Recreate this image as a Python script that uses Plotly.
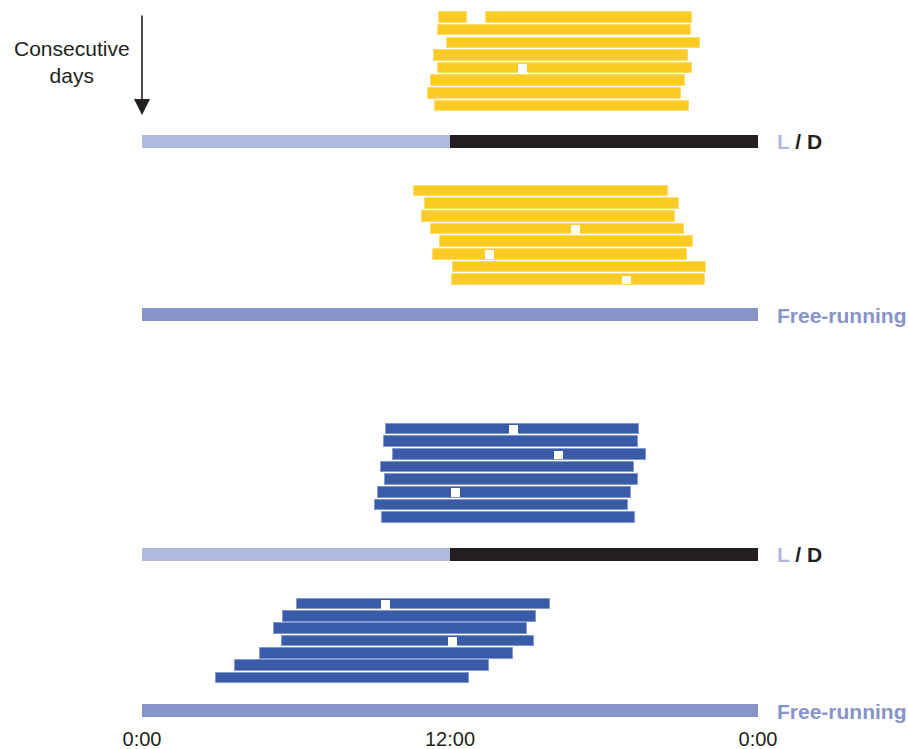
import plotly.graph_objects as go

# ---- activity records (clock hours, 0-24) ----
# Yellow animal, light/dark cycle
yellow_ld_on = [11.58, 11.52, 11.88, 11.39, 11.54, 11.27, 11.14, 11.43]
yellow_ld_off = [21.44, 21.39, 21.74, 21.26, 21.42, 21.14, 21.01, 21.30]
yellow_ld_gaps = [(0, 12.66, 13.40)]
yellow_ld_marks = [(4, 14.65, 15.00)]

# Yellow animal, free-running
yellow_fr_on = [10.61, 11.04, 10.91, 11.27, 11.62, 11.35, 12.13, 12.07]
yellow_fr_off = [20.48, 20.91, 20.78, 21.13, 21.48, 21.22, 21.99, 21.93]
yellow_fr_gaps = []
yellow_fr_marks = [(3, 16.71, 17.07), (5, 13.36, 13.71), (7, 18.70, 19.05)]

# Blue animal, light/dark cycle
blue_ld_on = [9.51, 9.44, 9.79, 9.32, 9.47, 9.19, 9.07, 9.35]
blue_ld_off = [19.36, 19.31, 19.65, 19.18, 19.34, 19.05, 18.93, 19.22]
blue_ld_gaps = []
blue_ld_marks = [(0, 14.30, 14.65), (2, 16.05, 16.40), (5, 12.04, 12.39)]

# Blue animal, free-running
blue_fr_on = [6.04, 5.49, 5.16, 5.44, 4.61, 3.64, 2.88]
blue_fr_off = [15.90, 15.35, 15.01, 15.29, 14.47, 13.51, 12.75]
blue_fr_gaps = []
blue_fr_marks = [(0, 9.31, 9.66), (3, 11.92, 12.27)]

# light schedule
light_phase = (0, 12)
dark_phase = (12, 24)
tick_hours = [0, 12, 24]
tick_text = ["0:00", "12:00", "0:00"]

# ---- styling ----
W, H = 908, 749
MB = 24
PLOT_H = H - MB
YELLOW = "#FCCB24"
YELLOW_EDGE = "#FDDC6E"
BLUE = "#3A5BA7"
BLUE_EDGE = "#8199CE"
LIGHT = "#B0BADF"
FREE = "#8794C9"
DARK = "#231F20"
BAR_H = 10.6
SCHED_H = 12.7
FONT = "Liberation Sans, Arial, sans-serif"

fig = go.Figure()


def draw_block(on, off, gaps, marks, y0, step, color, edge):
    ys = [y0 + step * i for i in range(len(on))]
    bases, lens, rows = [], [], []
    for i, (a, b) in enumerate(zip(on, off)):
        cuts = sorted([(g0, g1) for (r, g0, g1) in gaps if r == i])
        start = a
        for g0, g1 in cuts:
            bases.append(start)
            lens.append(g0 - start)
            rows.append(ys[i])
            start = g1
        bases.append(start)
        lens.append(b - start)
        rows.append(ys[i])
    fig.add_trace(go.Bar(
        orientation="h", base=bases, x=lens, y=rows, width=BAR_H,
        marker=dict(color=color, line=dict(color=edge, width=1)),
        showlegend=False, hoverinfo="skip"))
    if marks:
        fig.add_trace(go.Bar(
            orientation="h",
            base=[m[1] for m in marks],
            x=[m[2] - m[1] for m in marks],
            y=[ys[m[0]] + 0.4 for m in marks],
            width=BAR_H - 2.2,
            marker=dict(color="white", line=dict(width=0)),
            showlegend=False, hoverinfo="skip"))


def draw_schedule(y, with_dark):
    if with_dark:
        segs = [(light_phase, LIGHT), (dark_phase, DARK)]
    else:
        segs = [((0, 24), FREE)]
    for (a, b), c in segs:
        fig.add_trace(go.Bar(
            orientation="h", base=[a], x=[b - a], y=[y], width=SCHED_H,
            marker=dict(color=c, line=dict(width=0)),
            showlegend=False, hoverinfo="skip"))


draw_block(yellow_ld_on, yellow_ld_off, yellow_ld_gaps, yellow_ld_marks,
           17.5, 12.65, YELLOW, YELLOW_EDGE)
draw_schedule(141.3, True)
draw_block(yellow_fr_on, yellow_fr_off, yellow_fr_gaps, yellow_fr_marks,
           191.0, 12.65, YELLOW, YELLOW_EDGE)
draw_schedule(314.3, False)
draw_block(blue_ld_on, blue_ld_off, blue_ld_gaps, blue_ld_marks,
           429.0, 12.65, BLUE, BLUE_EDGE)
draw_schedule(554.3, True)
draw_block(blue_fr_on, blue_fr_off, blue_fr_gaps, blue_fr_marks,
           604.0, 12.35, BLUE, BLUE_EDGE)
draw_schedule(710.3, False)

label_x = 775 / W
annotations = [
    dict(text="Consecutive<br>days", x=72 / W, xref="paper", y=61.5, yref="y",
         xanchor="center", yanchor="middle", showarrow=False,
         font=dict(family=FONT, size=21, color="#231F20")),
    dict(text="", x=0, y=115, xref="x", yref="y", ax=0, ay=14,
         axref="x", ayref="y", showarrow=True, arrowhead=2,
         arrowsize=2.0, arrowwidth=1.6, arrowcolor="#231F20"),
]
for yy in (141.3, 554.3):
    annotations.append(dict(
        text=f"<b><span style='color:{LIGHT}'>L</span> / D</b>",
        x=label_x, xref="paper", y=yy, yref="y", xanchor="left",
        yanchor="middle", showarrow=False,
        font=dict(family=FONT, size=21, color=DARK)))
for yy in (315.5, 711.5):
    annotations.append(dict(
        text="<b>Free-running</b>", x=label_x, xref="paper", y=yy, yref="y",
        xanchor="left", yanchor="middle", showarrow=False,
        font=dict(family=FONT, size=21, color=FREE)))

fig.update_layout(
    width=W, height=H,
    margin=dict(l=0, r=0, t=0, b=MB, autoexpand=False),
    paper_bgcolor="white", plot_bgcolor="white",
    barmode="overlay", bargap=0,
    xaxis=dict(domain=[142 / W, 758 / W], range=[0, 24], automargin=False,
               tickvals=tick_hours, ticktext=tick_text,
               showgrid=False, zeroline=False, showline=False,
               ticks="", tickfont=dict(family=FONT, size=20, color="#231F20")),
    yaxis=dict(range=[PLOT_H, 0], visible=False, showgrid=False,
               zeroline=False, automargin=False),
    annotations=annotations,
)

fig.write_html("out.html")
